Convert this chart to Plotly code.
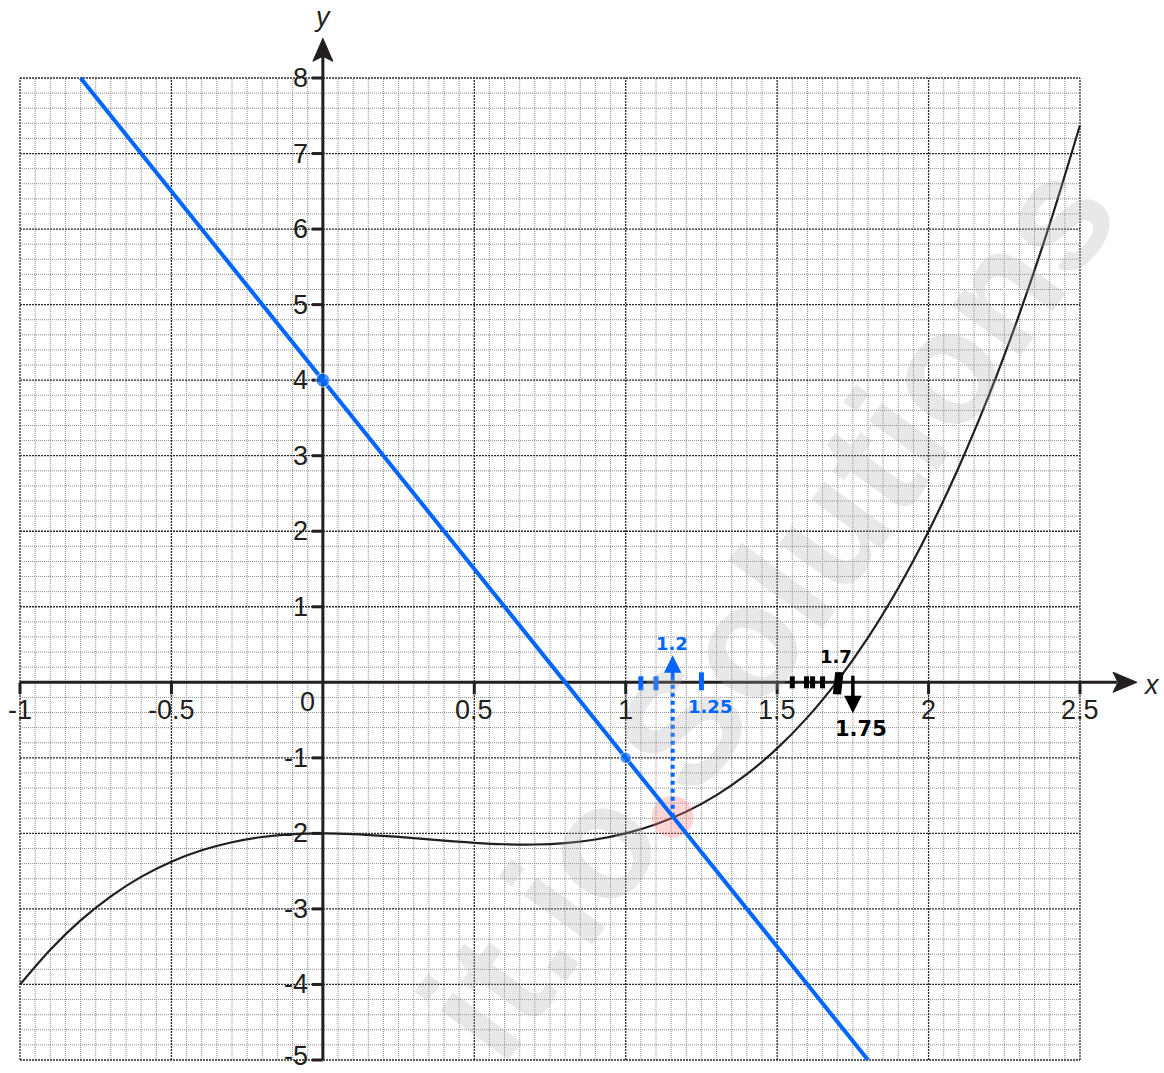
import numpy as np
import plotly.graph_objects as go

# ---- data ---------------------------------------------------------------
curve_x = [-1.0, -0.9, -0.8, -0.7, -0.6, -0.5, -0.4, -0.3, -0.2, -0.1,
           0.0, 0.1, 0.2, 0.3, 0.4, 0.5, 0.6, 0.7, 0.8, 0.9,
           1.0, 1.1, 1.2, 1.3, 1.4, 1.5, 1.6, 1.7, 1.8, 1.9,
           2.0, 2.1, 2.2, 2.3, 2.4, 2.5]
curve_y = [-4.000, -3.539, -3.152, -2.833, -2.576, -2.375, -2.224, -2.117, -2.048, -2.011,
           -2.000, -2.009, -2.032, -2.063, -2.096, -2.125, -2.144, -2.147, -2.128, -2.081,
           -2.000, -1.879, -1.712, -1.493, -1.216, -0.875, -0.464, 0.023, 0.592, 1.249,
           2.000, 2.851, 3.808, 4.877, 6.064, 7.375]

line_x = [-0.8, 1.8]
line_y = [8, -5]
line_pts_x = [0, 1]
line_pts_y = [4, -1]

meet_x = 1.155
meet_y = -1.78

x_tick_vals = [-1, -0.5, 0.5, 1, 1.5, 2, 2.5]
x_tick_text = ["-1", "-0.5", "0.5", "1", "1.5", "2", "2.5"]
y_tick_vals = [8, 7, 6, 5, 4, 3, 2, 1, -1, -2, -3, -4, -5]
y_tick_text = ["8", "7", "6", "5", "4", "3", "2", "1", "-1", "-2", "-3", "-4", "-5"]

blue_marks = [1.05, 1.1, 1.25]
black_marks = [1.55, 1.597, 1.617, 1.65]

X_MIN, X_MAX = -1.0, 2.5
Y_MIN, Y_MAX = -5.0, 8.0

# pixel scale helpers (figure spans the full page)
PX_X = 1060 / 3.5
PX_Y = 982 / 13.0

AXIS_COL = "#231f20"
BLUE = "#0066ff"

fig = go.Figure()


def seg_trace(xs, ys, color, width, dash=None):
    fig.add_trace(go.Scatter(x=xs, y=ys, mode="lines", hoverinfo="skip",
                             line=dict(color=color, width=width, dash=dash),
                             showlegend=False))


# ---- graph-paper grid ---------------------------------------------------
minor_x = [round(v, 3) for v in np.arange(X_MIN, X_MAX + 1e-9, 0.05)]
minor_y = [round(v, 3) for v in np.arange(Y_MIN, Y_MAX + 1e-9, 0.2)]
major_x = [round(v, 3) for v in np.arange(X_MIN, X_MAX + 1e-9, 0.5)]
major_y = [round(v, 3) for v in np.arange(Y_MIN, Y_MAX + 1e-9, 1.0)]


def grid_lines(xv, yv, skip_x=(), skip_y=()):
    gx, gy = [], []
    for v in xv:
        if any(abs(v - s) < 1e-6 for s in skip_x):
            continue
        gx += [v, v, None]
        gy += [Y_MIN, Y_MAX, None]
    for v in yv:
        if any(abs(v - s) < 1e-6 for s in skip_y):
            continue
        gx += [X_MIN, X_MAX, None]
        gy += [v, v, None]
    return gx, gy


gx, gy = grid_lines(minor_x, minor_y, major_x, major_y)
seg_trace(gx, gy, "#8c8c8c", 1, "1px,1px")
gx, gy = grid_lines(major_x, major_y)
seg_trace(gx, gy, "#2a2a2a", 1.3, "2px,1px")

# watermark placement
WM_X = X_MIN + (768 - 20) / PX_X
WM_Y = (682 - 608) / PX_Y

# ---- axes through the origin ---------------------------------------------
x_tip = X_MIN + (1137 - 20) / PX_X
y_tip = (682 - 38) / PX_Y
seg_trace([X_MIN, x_tip - 20 / PX_X], [0, 0], AXIS_COL, 3)
seg_trace([0, 0], [Y_MIN, y_tip - 18 / PX_Y], AXIS_COL, 3)

# arrowheads
fig.add_trace(go.Scatter(
    x=[x_tip, x_tip - 24 / PX_X, x_tip - 19 / PX_X, x_tip - 24 / PX_X, x_tip],
    y=[0, 10 / PX_Y, 0, -10 / PX_Y, 0],
    mode="lines", fill="toself", fillcolor=AXIS_COL,
    line=dict(color=AXIS_COL, width=1), hoverinfo="skip", showlegend=False))
fig.add_trace(go.Scatter(
    x=[0, 10 / PX_X, 0, -10 / PX_X, 0],
    y=[y_tip, y_tip - 23 / PX_Y, y_tip - 18 / PX_Y, y_tip - 23 / PX_Y, y_tip],
    mode="lines", fill="toself", fillcolor=AXIS_COL,
    line=dict(color=AXIS_COL, width=1), hoverinfo="skip", showlegend=False))

# tick marks
tx, ty = [], []
for v in x_tick_vals:
    tx += [v, v, None]
    ty += [0, -12 / PX_Y, None]
for v in y_tick_vals:
    tx += [-11 / PX_X, 0, None]
    ty += [v, v, None]
seg_trace(tx, ty, AXIS_COL, 3)

# ---- curves ---------------------------------------------------------------
fig.add_trace(go.Scatter(x=curve_x, y=curve_y, mode="lines", hoverinfo="skip",
                         line=dict(color=AXIS_COL, width=2.2, shape="spline",
                                   smoothing=0.8),
                         showlegend=False))

fig.add_trace(go.Scatter(x=[meet_x], y=[meet_y], mode="markers", hoverinfo="skip",
                         marker=dict(size=42, color="rgba(255,120,120,0.30)",
                                     line=dict(width=0)),
                         showlegend=False))

fig.add_trace(go.Scatter(x=line_x, y=line_y, mode="lines", hoverinfo="skip",
                         line=dict(color=BLUE, width=4), showlegend=False))
fig.add_trace(go.Scatter(x=line_pts_x, y=line_pts_y, mode="markers", hoverinfo="skip",
                         marker=dict(size=[14, 11], color=BLUE), showlegend=False))

# dotted drop line from the intersection to the x-axis
seg_trace([meet_x, meet_x], [meet_y, 0.12], BLUE, 4, "dot")

# hand-drawn marks along the x-axis
bx, by = [], []
for v in blue_marks:
    top = 10 / PX_Y if v == 1.25 else 6 / PX_Y
    bx += [v, v, None]
    by += [top, -8 / PX_Y, None]
seg_trace(bx, by, BLUE, 5)

kx, ky = [], []
for v in black_marks:
    kx += [v, v, None]
    ky += [6 / PX_Y, -6 / PX_Y, None]
kx += [1.692, 1.700, None, 1.703, 1.711, None]
ky += [-12 / PX_Y, 10 / PX_Y, None, -12 / PX_Y, 10 / PX_Y, None]
seg_trace(kx, ky, "#000000", 5)

annotations = []

annotations.append(dict(x=WM_X, y=WM_Y,
                        text="it.io Solutions", showarrow=False, textangle=-54,
                        xanchor="center", yanchor="middle",
                        font=dict(family="Liberation Sans, Arial", size=160,
                                  weight="bold", color="rgba(170,170,170,0.27)")))

# arrows
annotations.append(dict(x=meet_x, y=(682 - 655) / PX_Y, ax=meet_x, ay=0.05,
                        xref="x", yref="y", axref="x", ayref="y", text="",
                        showarrow=True, arrowhead=2, arrowsize=1, arrowwidth=3.5,
                        arrowcolor=BLUE))
annotations.append(dict(x=1.75, y=(682 - 713) / PX_Y, ax=1.75, ay=(682 - 674) / PX_Y,
                        xref="x", yref="y", axref="x", ayref="y", text="",
                        showarrow=True, arrowhead=2, arrowsize=1, arrowwidth=3.5,
                        arrowcolor="#000000"))

HAND = dict(family="DejaVu Sans", size=18, weight="bold")
annotations += [
    dict(x=1.153, y=(682 - 643) / PX_Y, text="1.2", showarrow=False,
         font=dict(**HAND, color=BLUE)),
    dict(x=1.278, y=(682 - 706) / PX_Y, text="1.25", showarrow=False,
         font=dict(**HAND, color=BLUE)),
    dict(x=1.694, y=(682 - 656) / PX_Y, text="1.7", showarrow=False,
         font=dict(**HAND, color="#000000")),
    dict(x=1.776, y=(682 - 729) / PX_Y, text="1.75", showarrow=False,
         font=dict(family="DejaVu Sans", size=21, weight="bold", color="#000000")),
]

# axis numbers
NUM = dict(family="Liberation Sans, Arial", size=27, color=AXIS_COL)
for v, t in zip(y_tick_vals, y_tick_text):
    annotations.append(dict(x=-13 / PX_X, y=v, text=t, showarrow=False,
                            xanchor="right", yanchor="middle", font=NUM,
                            yshift=4 if v == Y_MIN else 0))
for v, t in zip(x_tick_vals, x_tick_text):
    annotations.append(dict(x=v, y=-28 / PX_Y, text=t, showarrow=False,
                            xanchor="center", yanchor="middle", font=NUM))
annotations.append(dict(x=-15 / PX_X, y=-20 / PX_Y, text="0", showarrow=False,
                        xanchor="center", yanchor="middle", font=NUM))

# axis names
annotations.append(dict(x=X_MIN + (1151 - 20) / PX_X, y=-3 / PX_Y, text="<i>x</i>",
                        showarrow=False, font=dict(family="Liberation Sans, Arial",
                                                   size=27, color=AXIS_COL)))
annotations.append(dict(x=0, y=(682 - 17) / PX_Y, text="<i>y</i>",
                        showarrow=False, font=dict(family="Liberation Sans, Arial",
                                                   size=27, color=AXIS_COL)))

fig.update_layout(
    width=1164, height=1073,
    margin=dict(l=0, r=0, t=0, b=0),
    paper_bgcolor="white", plot_bgcolor="white",
    showlegend=False,
    xaxis=dict(range=[X_MIN - 20 / PX_X, X_MIN + 1144 / PX_X], visible=False,
               fixedrange=True),
    yaxis=dict(range=[Y_MIN - 13 / PX_Y, Y_MAX + 78 / PX_Y], visible=False,
               fixedrange=True),
    annotations=annotations,
)

fig.write_html("out.html", config=dict(displayModeBar=False))
